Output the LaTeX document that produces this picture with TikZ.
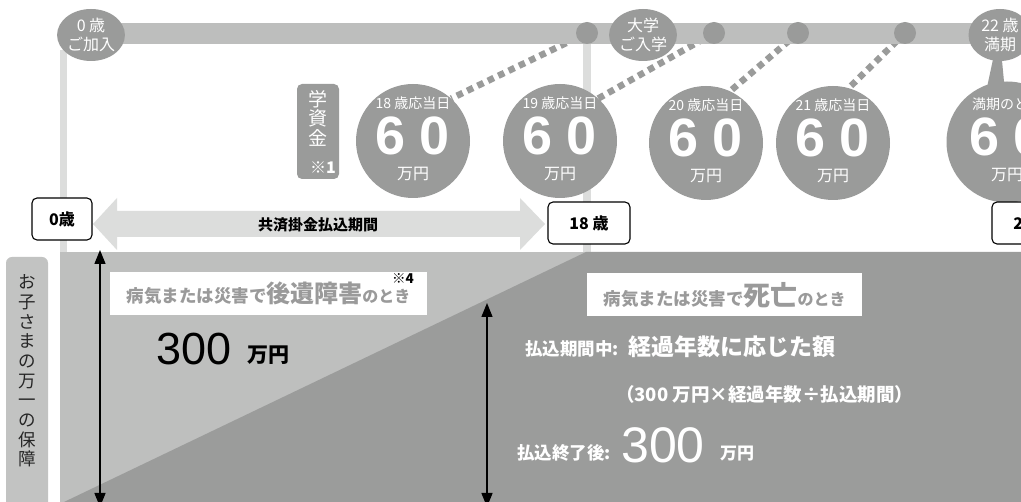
\documentclass[tikz,border=0pt]{standalone}
\usepackage{fontspec}
\setmainfont{Liberation Sans}
\newfontfamily\jp{Noto Sans CJK JP}
\newfontfamily\lat{Liberation Sans}
\usetikzlibrary{arrows.meta,shapes.geometric,backgrounds}
\definecolor{barc}{HTML}{BDBEBD}
\definecolor{dkc}{HTML}{9A9B9A}
\definecolor{ltc}{HTML}{DCDDDC}
\definecolor{midc}{HTML}{BEBFBE}
\definecolor{areac}{HTML}{9B9C9B}
\definecolor{labc}{HTML}{C2C3C2}
\definecolor{txtg}{HTML}{9A9A9A}
\newcommand\fs[1]{\fontsize{#1}{#1}\selectfont}
\newcommand\moneycircle[5]{%
  \node[bigc,minimum size=#5] (#1) at (#2,#3) {};
  \node[wtxt,font=\jp\fs{14}] (#1-l) at (#2,#3-38) {#4};
  \node[wtxt,font=\lat\bfseries\fs{54}] (#1-n) at (#2,#3-5) {6\hspace{14pt}0};
  \node[wtxt,font=\jp\fs{16}] (#1-u) at (#2,#3+33) {万円};
}
\begin{document}
\begin{tikzpicture}[x=1pt,y=-1pt,
  smalldot/.style={circle,fill=dkc,minimum size=22,inner sep=0},
  bigc/.style={circle,fill=dkc,inner sep=0},
  oval/.style={ellipse,fill=dkc,minimum width=63,minimum height=52,inner sep=0,
     text=white,align=center,font=\jp\fontsize{16}{19.5}\selectfont},
  wtxt/.style={text=white,inner sep=0},
  dots/.style={draw=dkc,line width=6.5,dash pattern=on 6.5 off 5},
  agebox/.style={draw=black,line width=1.1,rounded corners=5,fill=white,
     minimum height=42,inner sep=0,font=\jp\bfseries\fs{16}},
  wbox/.style={fill=white,inner sep=0,minimum height=43,text=txtg,font=\jp\bfseries},
  dbl/.style={line width=1.4,{Triangle[width=11,length=14]}-{Triangle[width=11,length=14]}}
]
\useasboundingbox (0,0) rectangle (1021,502);
\clip (0,0) rectangle (1021,502);

% top bar and light verticals
\fill[barc] (91,23) rectangle (1021,44);
\fill[ltc] (60,50) rectangle (67,252);
\fill[ltc] (583,44) rectangle (591,252);

% small circles on bar
\node[smalldot] (s1) at (587,33) {};
\node[smalldot] (s2) at (714,33) {};
\node[smalldot] (s3) at (798,33) {};
\node[smalldot] (s4) at (905,33) {};

% milestone ovals
\node[oval] (e0) at (91,35) {0 歳\\ご加入};
\node[oval,minimum width=61] (e18) at (643,35) {大学\\ご入学};
% tail of 22 bubble
\fill[dkc] (995,50) -- (1001,50) -- (1005,92) -- (986,92) -- cycle;
\node[oval] (e22) at (1000,35) {22 歳\\満期};

% money circles
\moneycircle{c18}{413}{141}{18 歳応当日}{114}
\moneycircle{c19}{560}{141}{19 歳応当日}{114}
\moneycircle{c20}{706}{143}{20 歳応当日}{114}
\moneycircle{c21}{833}{143}{21 歳応当日}{114}
\moneycircle{cm}{1007}{142}{満期のとき}{121}

% scholarship tag
\fill[dkc,rounded corners=5] (297,84) rectangle (339,179);
\node[wtxt,align=center,font=\jp\fontsize{19}{19.5}\selectfont] (gs) at (318,118) {学\\資\\金};
\node[wtxt,font=\jp\bfseries\fs{16}] (gsn) at (323,168) {※1};

% payment period arrow
\fill[ltc] (93,224) -- (117,198) -- (117,211) -- (520,211) -- (520,198) -- (545,224)
  -- (520,250) -- (520,237) -- (117,237) -- (117,250) -- cycle;
\node[inner sep=0,font=\jp\bfseries\fs{15}] (band) at (318,225) {共済掛金払込期間};

% age boxes
\node[agebox,minimum width=60] (b0) at (62,219) {0歳};
\node[agebox,minimum width=82] (b18) at (589,223) {18 歳};
\node[agebox,minimum width=82] (b22) at (1033,223) {22 歳};

% lower area
\fill[midc] (60,252) rectangle (1021,502);
\fill[areac] (64,502) -- (586,252) -- (1021,252) -- (1021,502) -- cycle;

% left label
\fill[labc,rounded corners=6] (6,257) rectangle (48,512);
\node[inner sep=0,align=center,text=black!85,font=\jp\fontsize{17.5}{19.7}\selectfont] (side) at (27,371)
  {お\\子\\さ\\ま\\の\\万\\一\\の\\保\\障};

% white label boxes
\node[wbox,minimum width=317] (w1) at (268.5,293.5)
  {\fs{17.5}病気または災害で\fs{24}後遺障害\fs{16}のとき};
\node[inner sep=0,font=\jp\bfseries\fs{13.5}] (w1n) at (403,279) {※4};
\node[wbox,minimum width=275] (w2) at (724.5,295)
  {\fs{17.5}病気または災害で\fs{27}死亡\fs{16}のとき};

% amounts
\node[anchor=base west,inner sep=0,font=\lat\fs{45}] (a300) at (156,365) {300};
\node[anchor=base west,inner sep=0,font=\jp\bfseries\fs{21}] (a300u) at (247,363) {万円};

\node[wtxt,anchor=base west,font=\jp\bfseries\fs{17.5}] (r1a) at (525,356) {払込期間中:};
\node[wtxt,anchor=base west,font=\jp\bfseries\fs{23}] (r1b) at (628,356) {経過年数に応じた額};
\node[wtxt,anchor=base west,font=\jp\bfseries\fs{18.5}] (r2) at (616,402) {（300 万円×経過年数÷払込期間）};
\node[wtxt,anchor=base west,font=\jp\bfseries\fs{17.5}] (r3a) at (517,460) {払込終了後:};
\node[wtxt,anchor=base west,font=\lat\fs{50}] (r3b) at (621,463) {300};
\node[wtxt,anchor=base west,font=\jp\bfseries\fs{17}] (r3c) at (720,460) {万円};

% black double arrows
\coordinate (p1t) at (100,250);
\coordinate (p1b) at (100,507);
\coordinate (p2t) at (487,303);
\coordinate (p2b) at (487,507);
\draw[dbl] (p1t) -- (p1b);
\draw[dbl] (p2t) -- (p2b);

% dotted connectors behind everything
\begin{scope}[on background layer]
  \fill[white] (0,0) rectangle (1021,502);
  \draw[dots] (s1.center) -- (c18.48);
  \draw[dots] (s2.center) -- (c19.48);
  \draw[dots] (s3.center) -- (c20.65);
  \draw[dots] (s4.center) -- (c21.74);
\end{scope}
\end{tikzpicture}
\end{document}
